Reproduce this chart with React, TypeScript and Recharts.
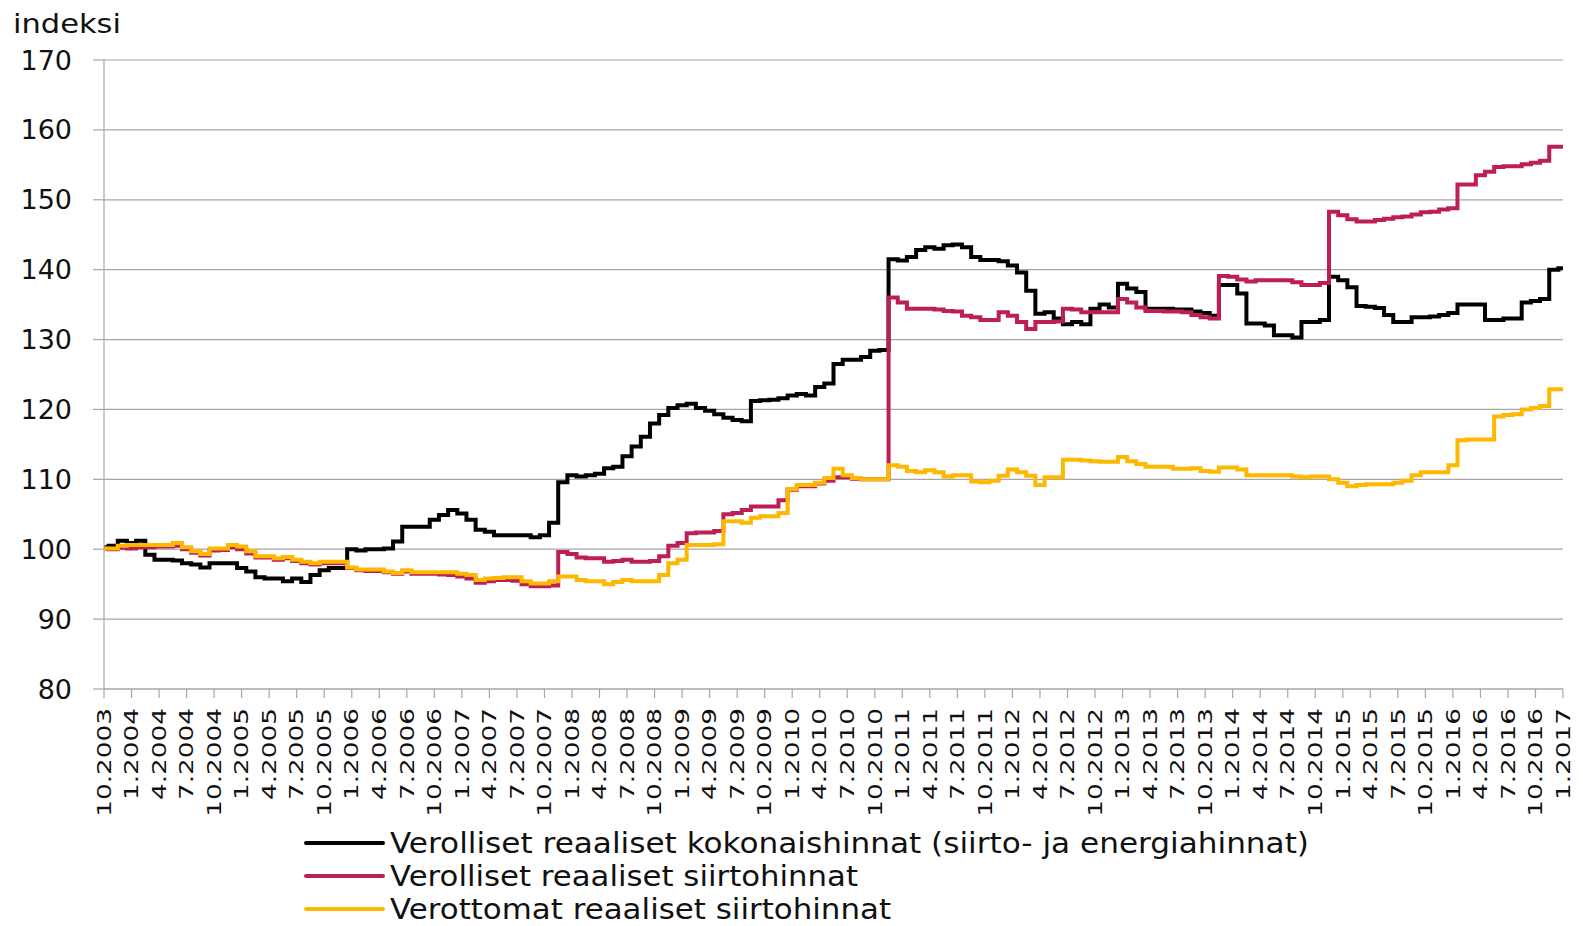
import { LineChart, Line, XAxis, YAxis, CartesianGrid } from 'recharts'

// monthly values, 10.2003 .. 1.2017
const quarterLabels = [
  '10.2003',
  '1.2004', '4.2004', '7.2004', '10.2004',
  '1.2005', '4.2005', '7.2005', '10.2005',
  '1.2006', '4.2006', '7.2006', '10.2006',
  '1.2007', '4.2007', '7.2007', '10.2007',
  '1.2008', '4.2008', '7.2008', '10.2008',
  '1.2009', '4.2009', '7.2009', '10.2009',
  '1.2010', '4.2010', '7.2010', '10.2010',
  '1.2011', '4.2011', '7.2011', '10.2011',
  '1.2012', '4.2012', '7.2012', '10.2012',
  '1.2013', '4.2013', '7.2013', '10.2013',
  '1.2014', '4.2014', '7.2014', '10.2014',
  '1.2015', '4.2015', '7.2015', '10.2015',
  '1.2016', '4.2016', '7.2016', '10.2016',
  '1.2017',
]

const totalTaxed = [
  100.3, 100.5, 101.2, 100.9, 101.2, 99.2, 98.5, 98.5, 98.4, 98.0,
  97.8, 97.4, 98.0, 98.0, 98.0, 97.3, 96.8, 96.0, 95.8, 95.8,
  95.4, 95.8, 95.3, 96.3, 97.0, 97.3, 97.3, 100.0, 99.8, 100.0,
  100.0, 100.1, 101.1, 103.2, 103.2,
  103.2, 104.2, 104.9, 105.6, 105.1, 104.2, 102.8, 102.5, 102.0, 102.0,
  102.0, 102.0, 101.7, 102.0, 103.8, 109.6, 110.6, 110.4, 110.6, 110.8,
  111.6, 111.8, 113.3, 114.7, 116.1, 118.0, 119.2, 120.2, 120.6, 120.8,
  120.2, 119.8, 119.3, 118.8, 118.5, 118.3, 121.2, 121.3, 121.4, 121.6,
  122.0, 122.2, 122.0, 123.2, 123.7, 126.5, 127.1, 127.1, 127.5, 128.4,
  128.5, 141.5, 141.3, 141.8, 142.8, 143.2, 143.0, 143.5, 143.6, 143.2,
  141.8, 141.4, 141.4, 141.2, 140.6, 139.6, 137.0, 133.7, 133.9, 133.0,
  132.2, 132.5, 132.2, 134.4, 135.0, 134.6, 138.0, 137.3, 136.8, 134.4,
  134.4, 134.4, 134.3,
  134.3, 134.0, 133.8, 133.4, 137.8, 137.8, 136.6, 132.3, 132.3, 132.0,
  130.6, 130.6, 130.3, 132.5, 132.5, 132.8, 139.0, 138.5, 137.5, 134.8,
  134.7, 134.5, 133.5, 132.5, 132.5, 133.2, 133.2, 133.3, 133.5, 133.8,
  135.0, 135.0, 135.0, 132.8, 132.8, 133.0, 133.0, 135.3, 135.5, 135.8,
  140.0, 140.2,
]

const transferTaxed = [
  100.1, 100.0, 100.2, 100.1, 100.3, 100.3, 100.4, 100.4, 100.5, 100.0,
  99.5, 99.1, 99.8, 99.9, 100.3, 100.0, 99.4, 98.8, 98.8, 98.5,
  98.7, 98.3, 98.0, 97.8, 98.0, 98.0, 98.0, 97.3, 97.0, 96.9,
  96.9, 96.7, 96.5, 96.8, 96.5,
  96.5, 96.5, 96.4, 96.3, 96.1, 95.8, 95.2, 95.4, 95.6, 95.6,
  95.5, 95.0, 94.7, 94.7, 94.8, 99.6, 99.3, 98.8, 98.7, 98.7,
  98.2, 98.3, 98.5, 98.2, 98.2, 98.3, 99.0, 100.5, 100.9, 102.3,
  102.4, 102.4, 102.6, 105.0, 105.2, 105.6, 106.1, 106.1, 106.1, 107.0,
  108.5, 109.0, 109.0, 109.4, 109.8, 110.3, 110.3, 110.1, 110.0, 110.0,
  110.0, 136.0, 135.3, 134.4, 134.4, 134.4, 134.3, 134.1, 134.0, 133.4,
  133.2, 132.8, 132.8, 133.9, 133.4, 132.5, 131.5, 132.5, 132.5, 132.6,
  134.4, 134.3, 133.9, 133.9, 133.9, 133.9, 135.8, 135.3, 134.6, 134.1,
  134.1, 134.0, 134.0,
  133.9, 133.5, 133.2, 133.0, 139.1, 139.0, 138.6, 138.3, 138.5, 138.5,
  138.5, 138.5, 138.2, 137.8, 137.8, 138.1, 148.3, 147.8, 147.2, 146.9,
  146.9, 147.1, 147.3, 147.5, 147.6, 147.9, 148.2, 148.3, 148.6, 148.8,
  152.2, 152.2, 153.5, 154.0, 154.7, 154.8, 154.8, 155.1, 155.3, 155.6,
  157.6, 157.6,
]

const transferUntaxed = [
  100.1, 100.1, 100.5, 100.6, 100.6, 100.6, 100.6, 100.6, 100.9, 100.3,
  99.7, 99.3, 100.1, 100.1, 100.6, 100.4, 99.7, 99.0, 99.0, 98.7,
  98.9, 98.5, 98.2, 98.0, 98.2, 98.2, 98.2, 97.4, 97.1, 97.1,
  97.1, 96.8, 96.6, 97.0, 96.7,
  96.7, 96.7, 96.7, 96.7, 96.5, 96.3, 95.6, 95.8, 95.9, 96.0,
  96.0, 95.4, 95.1, 95.1, 95.4, 96.1, 96.1, 95.6, 95.4, 95.4,
  95.0, 95.3, 95.6, 95.4, 95.4, 95.4, 96.3, 98.0, 98.5, 100.6,
  100.6, 100.6, 100.7, 104.0, 104.0, 103.8, 104.5, 104.7, 104.7, 105.2,
  108.6, 109.2, 109.2, 109.5, 110.2, 111.5, 110.6, 110.2, 110.0, 110.0,
  110.0, 112.0, 111.8, 111.2, 111.0, 111.3, 111.0, 110.4, 110.6, 110.6,
  109.7, 109.6, 109.8, 110.5, 111.4, 111.0, 110.5, 109.2, 110.3, 110.3,
  112.8, 112.8, 112.7, 112.6, 112.5, 112.5, 113.2, 112.6, 112.2, 111.8,
  111.8, 111.8, 111.5,
  111.5, 111.6, 111.2, 111.1, 111.7, 111.7, 111.4, 110.6, 110.6, 110.6,
  110.6, 110.6, 110.4, 110.3, 110.4, 110.4, 110.0, 109.5, 109.0, 109.2,
  109.3, 109.3, 109.3, 109.5, 109.8, 110.6, 111.0, 111.0, 111.0, 112.0,
  115.6, 115.7, 115.7, 115.7, 119.0, 119.2, 119.3, 120.0, 120.2, 120.5,
  122.9, 122.9,
]

const yTicks = [80, 90, 100, 110, 120, 130, 140, 150, 160, 170]

const seriesInfo = [
  { key: 'total', name: 'Verolliset reaaliset kokonaishinnat (siirto- ja energiahinnat)', color: '#000000', textWidth: 919 },
  { key: 'taxed', name: 'Verolliset reaaliset siirtohinnat', color: '#BE1E56', textWidth: 468 },
  { key: 'untaxed', name: 'Verottomat reaaliset siirtohinnat', color: '#FFB800', textWidth: 501 },
]

const data = totalTaxed.map((v, i) => ({
  m: i,
  total: v,
  taxed: transferTaxed[i],
  untaxed: transferUntaxed[i],
}))

const FONT = '"DejaVu Sans", Verdana, sans-serif'
const GRID = '#a6a6a6'

function QuarterTick(props: any) {
  const { x, y, payload } = props
  const label = quarterLabels[Math.round(payload.value / 3)]
  return (
    <g transform={`translate(${x},${y}) rotate(-90) scale(1.35,1)`}>
      <text
        x={0}
        y={0}
        textAnchor="end"
        dominantBaseline="central"
        fontSize={19.5}
        fontFamily={FONT}
        fill="#111"
      >
        {label}
      </text>
    </g>
  )
}

export default function App() {
  return (
    <div style={{ position: 'absolute', left: 0, top: 0, width: 1583, height: 926, background: '#fff', fontFamily: FONT }}>
      <LineChart
        width={1583}
        height={926}
        data={data}
        margin={{ top: 60, right: 20, bottom: 107, left: 0 }}
      >
        <CartesianGrid vertical={false} stroke={GRID} strokeWidth={1.2} />
        <XAxis
          dataKey="m"
          type="number"
          domain={[0, 159]}
          ticks={quarterLabels.map((_, i) => i * 3)}
          interval={0}
          height={130}
          tickSize={9}
          tickMargin={10}
          axisLine={{ stroke: GRID, strokeWidth: 1.2 }}
          tickLine={{ stroke: GRID, strokeWidth: 1.2 }}
          tick={<QuarterTick />}
        />
        <YAxis
          domain={[80, 170]}
          ticks={yTicks}
          interval={0}
          width={104}
          tickSize={11}
          tickMargin={21}
          axisLine={{ stroke: GRID, strokeWidth: 1.2 }}
          tickLine={{ stroke: GRID, strokeWidth: 1.2 }}
          tick={{ fill: '#111', fontSize: 27, fontFamily: FONT }}
        />
        {seriesInfo.map(s => (
          <Line
            key={s.key}
            dataKey={s.key}
            name={s.name}
            type="step"
            stroke={s.color}
            strokeWidth={4}
            dot={false}
            activeDot={false}
            isAnimationActive={false}
          />
        ))}
      </LineChart>
      <svg
        width={1583}
        height={926}
        style={{ position: 'absolute', left: 0, top: 0, pointerEvents: 'none' }}
      >
        <text x={13} y={33} fontSize={27} fontFamily={FONT} fill="#111" textLength={108} lengthAdjust="spacingAndGlyphs">
          indeksi
        </text>
        {seriesInfo.map((s, i) => {
          const rowY = 843 + i * 33
          return (
            <g key={s.key}>
              <line x1={306} x2={383} y1={rowY} y2={rowY} stroke={s.color} strokeWidth={4} strokeLinecap="round" />
              <text
                x={390}
                y={rowY + 10}
                fontSize={28}
                fontFamily={FONT}
                fill="#111"
                textLength={s.textWidth}
                lengthAdjust="spacingAndGlyphs"
              >
                {s.name}
              </text>
            </g>
          )
        })}
      </svg>
    </div>
  )
}
